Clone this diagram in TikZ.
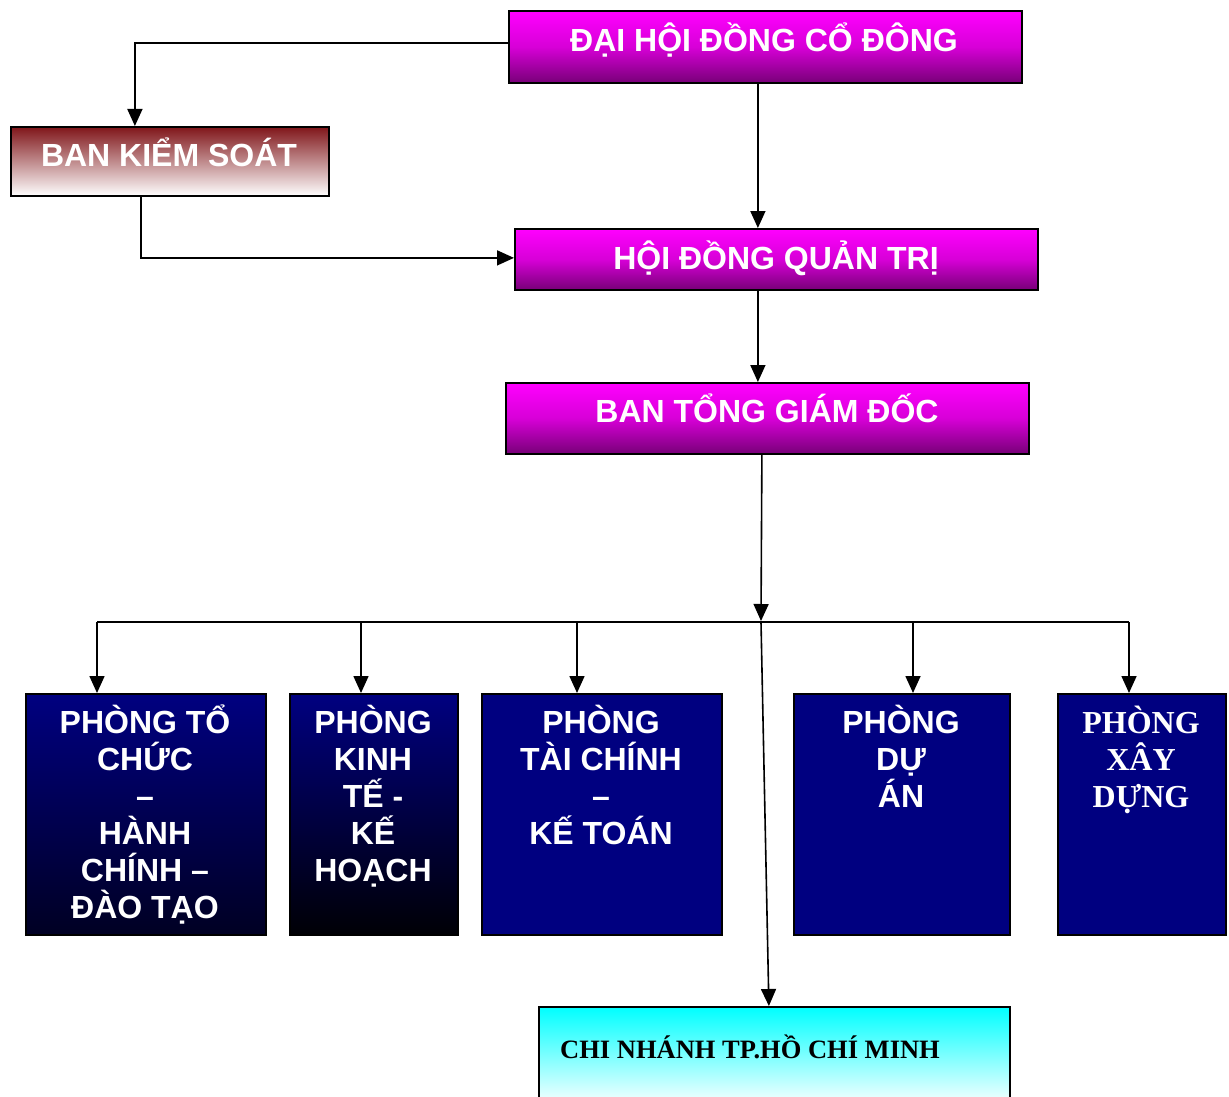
\documentclass[tikz,border=0pt]{standalone}
\usepackage{fontspec}
\setmainfont{Liberation Sans}
\newfontfamily\serifb{Liberation Serif}
\usetikzlibrary{arrows.meta}
\definecolor{mag}{RGB}{255,0,255}
\definecolor{magmid}{RGB}{215,0,215}
\definecolor{magdark}{RGB}{120,0,120}
\definecolor{bksred}{RGB}{128,22,26}
\definecolor{navy}{RGB}{0,0,128}
\definecolor{navydark}{RGB}{0,0,35}
\definecolor{navyblack}{RGB}{0,0,5}
\definecolor{cyanc}{RGB}{0,255,255}
\tikzset{
  box/.style={draw=black, line width=1.8pt, inner sep=0pt, anchor=north west},
  magbox/.style={box, top color=mag, bottom color=magdark, middle color=magmid},
  toptext/.style={text=white, anchor=base, inner sep=0pt, font=\fontsize{32}{36}\selectfont\bfseries},
  deptext/.style={text=white, anchor=north, inner sep=0pt, align=center, font=\fontsize{32}{37}\selectfont\bfseries},
  conn/.style={line width=1.6pt, draw=black},
  arr/.style={conn, -{Triangle[length=17pt,width=15pt]}},
}
\begin{document}
\begin{tikzpicture}[x=1pt,y=-1pt]
\clip (0,0) rectangle (1229,1097);
\fill[white] (0,0) rectangle (1229,1097);

% top boxes
\node[magbox, minimum width=513pt, minimum height=72pt] (dh) at (508,10) {};
\node[toptext] (dht) at (764,52) {ĐẠI HỘI ĐỒNG CỔ ĐÔNG};

\node[box, top color=bksred, bottom color=white, minimum width=318pt, minimum height=69pt] (bks) at (10,126) {};
\node[toptext] (bkst) at (169,167) {BAN KIỂM SOÁT};

\node[magbox, minimum width=523pt, minimum height=61pt] (hq) at (514,228) {};
\node[toptext] (hqt) at (776,269) {HỘI ĐỒNG QUẢN TRỊ};

\node[magbox, minimum width=523pt, minimum height=71pt] (bt) at (505,382) {};
\node[toptext] (btt) at (767,422) {BAN TỔNG GIÁM ĐỐC};

% department boxes
\node[box, top color=navy, bottom color=navydark, minimum width=240pt, minimum height=241pt] (b1) at (25,693) {};
\node[deptext] (b1t) at (145,702) {\rule{0pt}{31pt}PHÒNG TỔ\\CHỨC\\–\\HÀNH\\CHÍNH –\\ĐÀO TẠO};

\node[box, top color=navy, bottom color=navyblack, minimum width=168pt, minimum height=241pt] (b2) at (289,693) {};
\node[deptext] (b2t) at (373,702) {\rule{0pt}{31pt}PHÒNG\\KINH\\TẾ -\\KẾ\\HOẠCH};

\node[box, fill=navy, minimum width=240pt, minimum height=241pt] (b3) at (481,693) {};
\node[deptext] (b3t) at (601,702) {\rule{0pt}{31pt}PHÒNG\\TÀI CHÍNH\\–\\KẾ TOÁN};

\node[box, fill=navy, minimum width=216pt, minimum height=241pt] (b4) at (793,693) {};
\node[deptext] (b4t) at (901,702) {\rule{0pt}{31pt}PHÒNG\\DỰ\\ÁN};

\node[box, fill=navy, minimum width=168pt, minimum height=241pt] (b5) at (1057,693) {};
\node[deptext, font=\fontsize{32}{37}\selectfont\serifb\bfseries] (b5t) at (1141,702) {\rule{0pt}{31pt}PHÒNG\\XÂY\\DỰNG};

% branch box
\node[box, top color=cyanc, bottom color=white, minimum width=471pt, minimum height=100pt] (cn) at (538,1006) {};
\node[anchor=base west, inner sep=0pt, font=\fontsize{26.5}{30}\selectfont\serifb\bfseries] (cnt) at (560,1058) {CHI NHÁNH TP.HỒ CHÍ MINH};

% connectors
\draw[arr] ([yshift=4pt]dh.west) -| ([xshift=-35pt]bks.north);
\draw[arr] ([xshift=-7.5pt]dh.south) -- ([xshift=-7.5pt]dh.south |- hq.north);
\draw[arr] ([xshift=-29pt]bks.south) |- ([yshift=1.5pt]hq.west);
\draw[arr] ([xshift=-18.5pt]hq.south) -- ([xshift=-18.5pt]hq.south |- bt.north);

\coordinate (j) at (761,622);
\coordinate (bl) at (97,622);
\coordinate (br) at (1129,622);
\coordinate (d2) at (361,622);
\coordinate (d3) at (577,622);
\coordinate (d4) at (913,622);
\draw[arr] ([xshift=-5.5pt]bt.south) -- ([yshift=1pt]j);
\draw[conn] (bl) -- (br);
\draw[arr] (bl) -- (bl |- b1.north);
\draw[arr] (d2) -- (d2 |- b2.north);
\draw[arr] (d3) -- (d3 |- b3.north);
\draw[arr] (d4) -- (d4 |- b4.north);
\draw[arr] (br) -- (br |- b5.north);
\draw[arr] (j) -- ([xshift=-5.5pt]cn.north);
\end{tikzpicture}
\end{document}
